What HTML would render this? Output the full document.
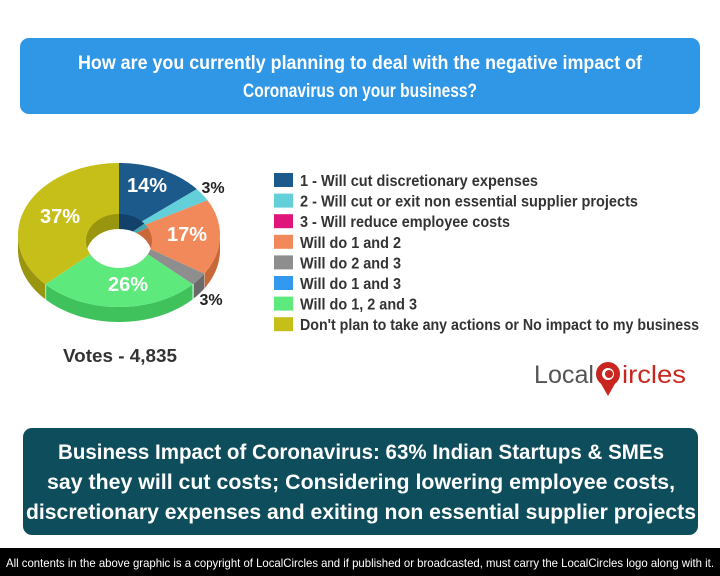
<!DOCTYPE html>
<html><head><meta charset="utf-8"><style>
html,body{margin:0;padding:0;background:#fff;width:720px;height:576px;overflow:hidden}
svg{display:block}
text{font-family:"Liberation Sans Narrow","Liberation Sans",sans-serif;font-weight:bold}
</style></head><body>
<svg id="s" width="720" height="576" viewBox="0 0 720 576" xmlns="http://www.w3.org/2000/svg">
<rect x="20" y="38" width="680" height="76" rx="9" fill="#3096e6"/>
<text x="360" y="69" fill="#fff" font-size="19" text-anchor="middle" textLength="564" lengthAdjust="spacingAndGlyphs">How are you currently planning to deal with the negative impact of</text>
<text x="360" y="97" fill="#fff" font-size="19" text-anchor="middle" textLength="234" lengthAdjust="spacingAndGlyphs">Coronavirus on your business?</text>
<g id="pie"></g>
<text x="120" y="362" fill="#333" font-size="18" text-anchor="middle" textLength="114" lengthAdjust="spacingAndGlyphs">Votes - 4,835</text>
<g id="leg"></g>
<text x="534" y="383" fill="#555" font-size="25" font-weight="normal" style="font-weight:normal" textLength="60" lengthAdjust="spacingAndGlyphs">Local</text>
<circle cx="608" cy="374" r="12" fill="#c8261f"/>
<path d="M600,382 L608,396 L616,382 Z" fill="#c8261f"/>
<circle cx="608" cy="374" r="6" fill="#fff"/>
<circle cx="609" cy="374" r="4" fill="#c8261f"/>
<text x="622" y="383" fill="#c8261f" font-size="25" style="font-weight:normal" textLength="64" lengthAdjust="spacingAndGlyphs">ircles</text>
<rect x="23" y="428" width="675" height="107" rx="9" fill="#0e4d5b"/>
<text x="361" y="459" fill="#fff" font-size="21" text-anchor="middle" textLength="606" lengthAdjust="spacingAndGlyphs">Business Impact of Coronavirus: 63% Indian Startups &amp; SMEs</text>
<text x="361" y="489" fill="#fff" font-size="21" text-anchor="middle" textLength="628" lengthAdjust="spacingAndGlyphs">say they will cut costs; Considering lowering employee costs,</text>
<text x="361" y="519" fill="#fff" font-size="21" text-anchor="middle" textLength="670" lengthAdjust="spacingAndGlyphs">discretionary expenses and exiting non essential supplier projects</text>
<rect x="0" y="548" width="720" height="28" fill="#000"/>
<text x="360" y="567" fill="#fff" font-size="12" text-anchor="middle" style="font-weight:normal" textLength="708" lengthAdjust="spacingAndGlyphs">All contents in the above graphic is a copyright of LocalCircles and if published or broadcasted, must carry the LocalCircles logo along with it.</text>
</svg>
<script>
var NS="http://www.w3.org/2000/svg";
function el(p,t,a,txt){var e=document.createElementNS(NS,t);for(var k in a)e.setAttribute(k,a[k]);if(txt)e.textContent=txt;p.appendChild(e);return e;}
var cx=119,cy=235,rx=101,ry=72,hrx=33,hry=27,hcx=119,hcy=241,d=15;
var sl=[[14,"#1d5a8c","#12416a"],[3,"#62cfd9","#3fa8b2"],[17,"#f2895a","#c86838"],[3,"#8e8e8e","#6a6a6a"],[26,"#5ee97c","#3fc25c"],[37,"#c6bf1a","#9a950e"]];
function P(a,rX,rY,X,Y){var r=a*Math.PI/180;return [X+rX*Math.sin(r),Y-rY*Math.cos(r)];}
var g=document.getElementById("pie");
var acc=0,angs=[];
sl.forEach(function(s){var a1=acc*3.6;acc+=s[0];angs.push([a1,acc*3.6]);});
// side walls
sl.forEach(function(s,i){var a1=Math.max(angs[i][0],90),a2=Math.min(angs[i][1],270);if(a2<=a1)return;
var pts=[];for(var a=a1;a<=a2+0.001;a+=1){pts.push(P(Math.min(a,a2),rx,ry,cx,cy));}
var dd="M"+pts.map(function(p){return p[0].toFixed(1)+","+p[1].toFixed(1)}).join(" L");
for(var j=pts.length-1;j>=0;j--)dd+=" L"+pts[j][0].toFixed(1)+","+(pts[j][1]+d).toFixed(1);
el(g,"path",{d:dd+"Z",fill:s[2]});});
// top faces
sl.forEach(function(s,i){var a1=angs[i][0],a2=angs[i][1];var pts=[[cx,cy]];
for(var a=a1;a<=a2+0.001;a+=1)pts.push(P(Math.min(a,a2),rx,ry,cx,cy));pts.push(P(a2,rx,ry,cx,cy));
el(g,"path",{d:"M"+pts.map(function(p){return p[0].toFixed(1)+","+p[1].toFixed(1)}).join(" L")+"Z",fill:s[1]});});
// hole
var cp=el(el(g,"defs",{}),"clipPath",{id:"hc"});el(cp,"ellipse",{cx:hcx,cy:hcy,rx:hrx,ry:hry});
var hg=el(g,"g",{"clip-path":"url(#hc)"});
sl.forEach(function(s,i){var a1=angs[i][0],a2=angs[i][1];var pts=[[hcx,hcy]];
for(var a=a1;a<=a2+0.001;a+=1)pts.push(P(Math.min(a,a2),hrx*3,hry*3,hcx,hcy));
el(hg,"path",{d:"M"+pts.map(function(p){return p[0].toFixed(1)+","+p[1].toFixed(1)}).join(" L")+"Z",fill:s[2]});});
el(hg,"ellipse",{cx:hcx,cy:hcy+d,rx:hrx,ry:hry,fill:"#fff"});
// labels
[["14%",147,192,"#fff"],["37%",60,223,"#fff"],["17%",187,241,"#fff"],["26%",128,291,"#fff"],["3%",213,193,"#222"],["3%",211,305,"#222"]].forEach(function(l){
var big=l[3]=="#fff";el(g,"text",{x:l[1],y:l[2],fill:l[3],"font-size":big?20:16,"text-anchor":"middle",style:"font-family:'Liberation Sans',sans-serif"},l[0]);});
// legend
var lg=document.getElementById("leg");
var items=[["#1d5a8c","1 - Will cut discretionary expenses",238],["#62cfd9","2 - Will cut or exit non essential supplier projects",338],["#e0157c","3 - Will reduce employee costs",210],["#f2895a","Will do 1 and 2",101],["#8e8e8e","Will do 2 and 3",101],["#3399f0","Will do 1 and 3",101],["#5ee97c","Will do 1, 2 and 3",117],["#c6bf1a","Don't plan to take any actions or No impact to my business",399]];
items.forEach(function(it,i){var y=180+i*20.6;el(lg,"rect",{x:274,y:y-7,width:19,height:14,fill:it[0]});
el(lg,"text",{x:300,y:y+6,fill:"#333","font-size":16,textLength:it[2],lengthAdjust:"spacingAndGlyphs"},it[1]);});
</script>
</body></html>
